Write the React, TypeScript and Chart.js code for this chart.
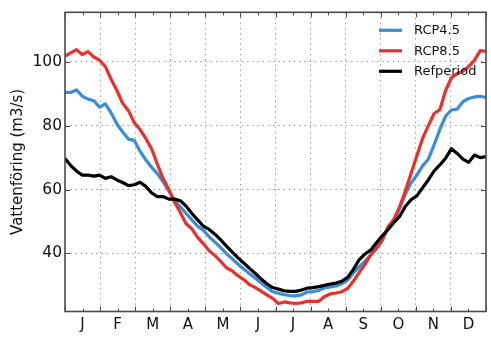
import React, { useEffect, useRef } from "react";
import { Chart, registerables } from "chart.js";

Chart.register(...registerables);

// Day of year (x) for every sample
const DAYS = [
  0, 5, 10, 15, 20, 25, 30, 35, 40, 45, 50, 55, 60, 65, 70, 75, 80, 85, 90, 95,
  100, 105, 110, 115, 120, 125, 130, 135, 140, 145, 150, 155, 160, 165, 170, 175,
  180, 185, 190, 195, 200, 205, 210, 215, 220, 225, 230, 235, 240, 245, 250, 255,
  260, 265, 270, 275, 280, 285, 290, 295, 300, 305, 310, 315, 320, 325, 330, 335,
  340, 345, 350, 355, 360, 365,
];

const RCP45 = [
  90.4, 90.4, 91.2, 89.2, 88.3, 87.8, 85.8, 86.8, 84, 80.5, 78, 75.8, 75.4, 72, 69.3, 67,
  65, 62.5, 59.6, 56.5, 54.6, 52.5, 50.5, 48.5, 47.2, 45.2, 43.5, 41.8, 39.9, 38.3, 36.6,
  35.1, 33.6, 32.2, 30.7, 29.3, 28, 27.5, 27.1, 26.8, 26.7, 27, 27.9, 28, 28.4, 29.2, 29.5,
  29.8, 30.5, 31.6, 33.8, 35.8, 37.5, 39.5, 41.8, 44.5, 47.8, 49.8, 54, 58.5, 62, 64.5,
  67.4, 69.5, 74, 78.8, 83, 84.9, 85.2, 87.5, 88.5, 89, 89.2, 88.8,
];

const RCP85 = [
  101.8, 102.8, 103.8, 102.3, 103.2, 101.5, 100.5, 98.5, 94.5, 91, 87, 84.7, 81, 78.8, 76,
  72.8, 68, 63.5, 60, 56, 52.8, 49.3, 47.7, 45, 43, 40.8, 39.3, 37.5, 35.5, 34.5, 33, 31.8,
  30.2, 29.3, 28.2, 27, 25.9, 24.3, 24.8, 24.5, 24.3, 24.5, 25, 25, 25, 26.5, 27.3, 27.6,
  28, 29, 31.3, 34, 36.5, 39.5, 41.5, 44, 48.3, 50.6, 54.5, 59.5, 65, 70.5, 76, 80, 83.8,
  85, 91, 95, 96.3, 97, 98.5, 100.5, 103.5, 103.3,
];

const REFPERIOD = [
  69.7, 67.5, 65.8, 64.5, 64.5, 64.2, 64.5, 63.5, 64, 63, 62.2, 61.2, 61.5, 62.3, 61, 59,
  57.8, 57.8, 57, 57, 56.5, 54.8, 52.5, 50.5, 48.5, 47.5, 46, 44.2, 42.3, 40.4, 38.6, 37,
  35.3, 33.7, 32, 30.5, 29.3, 28.8, 28.3, 28.1, 28.1, 28.5, 29.1, 29.3, 29.6, 30, 30.4,
  30.7, 31.3, 32.5, 35, 38, 39.8, 41, 43.3, 45.5, 47.4, 49.6, 51.5, 54.7, 56.8, 58, 60.5,
  63, 65.8, 67.7, 69.8, 72.8, 71.3, 69.5, 68.5, 70.8, 70, 70.3,
];

const MONTHS = ["J", "F", "M", "A", "M", "J", "J", "A", "S", "O", "N", "D"];
const Y_TICKS = [40, 60, 80, 100];
const SERIES_LABELS = ["RCP4.5", "RCP8.5", "Refperiod"];
const SERIES_COLORS = ["#3a8dd8", "#e8302c", "#000000"];
const Y_TITLE = "Vattenföring (m3/s)";

const X_MAX = 365;
const Y_MIN = 21.8;
const Y_MAX = 115.5;

const FONT = "'DejaVu Sans', 'Liberation Sans', sans-serif";
const SPINE = "#4a4a4a";
const GRID = "#a3a3a3";

export default function App() {
  const canvasRef = useRef<HTMLCanvasElement>(null);

  useEffect(() => {
    const canvas = canvasRef.current;
    if (!canvas) return;

    const half = X_MAX / MONTHS.length / 2;
    const xTickValues = Array.from({ length: MONTHS.length * 2 + 1 }, (_, k) => k * half);
    const lastIdx = xTickValues.length - 1;

    const frameAndTicks = {
      id: "frameAndTicks",
      afterDatasetsDraw(chart: any) {
        const { ctx, chartArea, scales } = chart;
        const { left, right, top, bottom } = chartArea;
        ctx.save();
        ctx.strokeStyle = SPINE;
        ctx.lineWidth = 1;
        xTickValues.forEach((v, k) => {
          const px = Math.round(scales.x.getPixelForValue(v)) + 0.5;
          const len = k % 2 === 0 ? 5 : 3;
          ctx.beginPath();
          ctx.moveTo(px, bottom);
          ctx.lineTo(px, bottom - len);
          ctx.moveTo(px, top);
          ctx.lineTo(px, top + len);
          ctx.stroke();
        });
        Y_TICKS.forEach((v) => {
          const py = Math.round(scales.y.getPixelForValue(v)) + 0.5;
          ctx.beginPath();
          ctx.moveTo(left, py);
          ctx.lineTo(left + 5, py);
          ctx.moveTo(right, py);
          ctx.lineTo(right - 5, py);
          ctx.stroke();
        });
        ctx.lineWidth = 1.6;
        ctx.strokeRect(left, top, right - left, bottom - top);
        ctx.restore();
      },
    };

    const legendPlugin = {
      id: "innerLegend",
      afterDraw(chart: any) {
        const { ctx, chartArea } = chart;
        ctx.save();
        ctx.font = `13px ${FONT}`;
        ctx.textBaseline = "middle";
        ctx.textAlign = "left";
        chart.data.datasets.forEach((ds: any, i: number) => {
          const y = chartArea.top + 18 + i * 20.5;
          const x0 = chartArea.right - 107;
          ctx.strokeStyle = ds.borderColor;
          ctx.lineWidth = 3.2;
          ctx.lineCap = "butt";
          ctx.beginPath();
          ctx.moveTo(x0, y);
          ctx.lineTo(x0 + 23, y);
          ctx.stroke();
          ctx.fillStyle = "#111";
          ctx.fillText(ds.label, x0 + 35, y + 0.5);
        });
        ctx.restore();
      },
    };

    const seriesValues = [RCP45, RCP85, REFPERIOD];
    const chart = new Chart(canvas, {
      type: "line",
      data: {
        datasets: seriesValues.map((vals, i) => ({
          label: SERIES_LABELS[i],
          data: DAYS.map((d, j) => ({ x: d, y: vals[j] })),
          borderColor: SERIES_COLORS[i],
          backgroundColor: SERIES_COLORS[i],
          borderWidth: 3.2,
          pointRadius: 0,
          tension: 0,
          fill: false,
          borderJoinStyle: "round" as const,
          order: seriesValues.length - i,
        })),
      },
      options: {
        responsive: false,
        animation: false,
        events: [],
        layout: { padding: { top: 9, right: 1, left: 0, bottom: 0 } },
        plugins: {
          legend: { display: false },
          tooltip: { enabled: false },
        },
        scales: {
          x: {
            type: "linear",
            min: 0,
            max: X_MAX,
            afterBuildTicks: (scale: any) => {
              scale.ticks = xTickValues.map((v) => ({ value: v }));
            },
            afterFit: (scale: any) => {
              scale.height = 25.5;
            },
            ticks: {
              autoSkip: false,
              maxRotation: 0,
              padding: 5,
              color: "#111",
              font: { family: FONT, size: 15 },
              callback: (_v: any, i: number) => (i % 2 === 1 ? MONTHS[(i - 1) / 2] : ""),
            },
            grid: {
              drawTicks: false,
              lineWidth: 1,
              color: (c: any) =>
                c.index % 2 === 0 && c.index !== 0 && c.index !== lastIdx ? GRID : "rgba(0,0,0,0)",
            },
            border: { display: false, dash: [1.6, 3.6] },
          },
          y: {
            type: "linear",
            min: Y_MIN,
            max: Y_MAX,
            afterBuildTicks: (scale: any) => {
              scale.ticks = Y_TICKS.map((v) => ({ value: v }));
            },
            afterFit: (scale: any) => {
              scale.width = 65;
            },
            ticks: {
              padding: 3,
              color: "#111",
              font: { family: FONT, size: 15.5 },
              callback: (v: any) => String(v),
            },
            grid: {
              drawTicks: false,
              lineWidth: 1,
              color: GRID,
            },
            border: { display: false, dash: [1.6, 3.6] },
            title: {
              display: true,
              text: Y_TITLE,
              color: "#111",
              font: { family: FONT, size: 15 },
              padding: { top: 9, bottom: 0 },
            },
          },
        },
      },
      plugins: [frameAndTicks, legendPlugin],
    });

    return () => chart.destroy();
  }, []);

  return (
    <div style={{ position: "fixed", left: 0, top: 0, width: 491, height: 337, background: "#fff" }}>
      <canvas ref={canvasRef} width={491} height={337} style={{ display: "block" }} />
    </div>
  );
}
